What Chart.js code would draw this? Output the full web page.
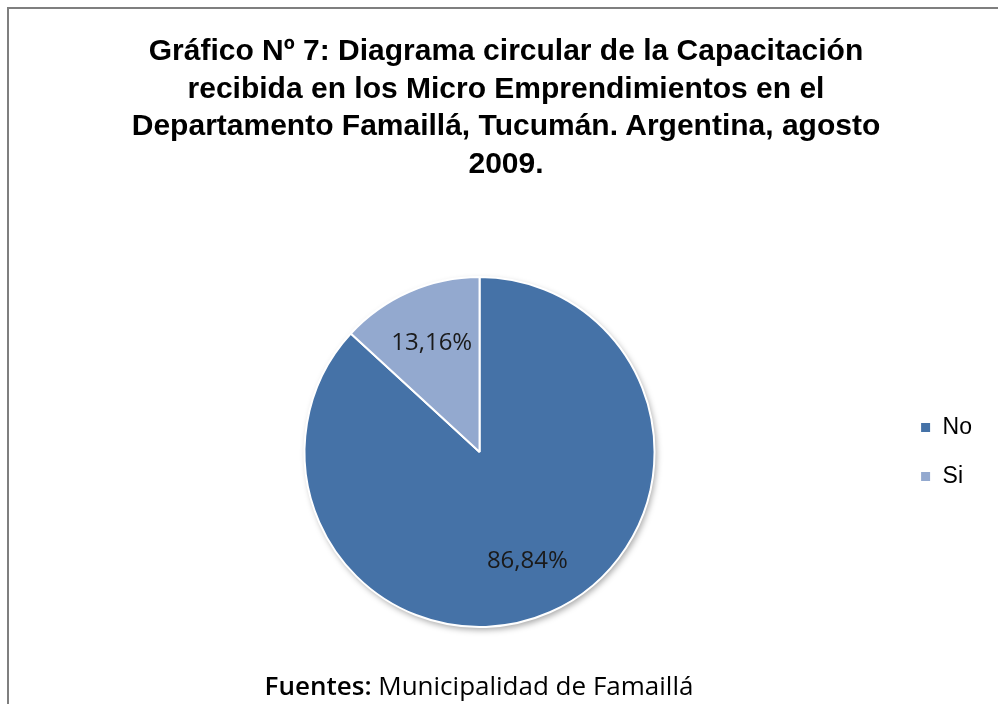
<!DOCTYPE html>
<html lang="es">
<head>
<meta charset="utf-8">
<title>Gráfico Nº 7</title>
<script src="https://cdn.jsdelivr.net/npm/chart.js@4.4.1/dist/chart.umd.min.js"></script>
<style>
    html, body { margin: 0; padding: 0; background: #fff; }
    #page { position: relative; width: 998px; height: 704px; overflow: hidden; background: #fff; }
    #frame {
        position: absolute; left: 7px; top: 7px; right: -10px; bottom: -10px;
        border-top: 2px solid #7f7f7f; border-left: 2px solid #7f7f7f;
    }
    #title {
        position: absolute; left: 14px; top: 31px; width: 984px;
        text-align: center; font-family: "Liberation Sans", Arial, sans-serif;
        font-weight: bold; font-size: 30px; line-height: 37.5px; color: #000;
    }
    #source {
        position: absolute; left: 0; top: 668px; width: 958px;
        text-align: center; font-family: "Open Sans", sans-serif;
        font-size: 26px; line-height: 35px; color: #000;
    }
    #source b { font-weight: 600; }
    canvas { position: absolute; left: 0; top: 0; }
</style>
</head>
<body>
<div id="page">
    <div id="frame"></div>
    <canvas id="chart" width="998" height="704"></canvas>
    <div id="title">Gráfico Nº 7: Diagrama circular de la Capacitación<br>recibida en los Micro Emprendimientos en el<br>Departamento Famaillá, Tucumán. Argentina, agosto<br>2009.</div>
    <div id="source"><b>Fuentes:</b> Municipalidad de Famaillá</div>
</div>
<script>
const LABELS = ["No", "Si"];
const VALUES = [86.84, 13.16];
const COLORS = ["#4572a7", "#93a9cf"];

function formatPct(v) {
    return v.toFixed(2).replace(".", ",") + "%";
}

// soft drop shadow under the whole pie, like the original
const pieShadow = {
    id: "pieShadow",
    beforeDatasetsDraw(chart) {
        const arc = chart.getDatasetMeta(0).data[0];
        if (!arc) return;
        const { x, y, outerRadius } = arc.getProps(["x", "y", "outerRadius"], true);
        const ctx = chart.ctx;
        ctx.save();
        ctx.shadowColor = "rgba(0,0,0,0.35)";
        ctx.shadowBlur = 6;
        ctx.shadowOffsetX = 2;
        ctx.shadowOffsetY = 3;
        ctx.fillStyle = "#ffffff";
        ctx.beginPath();
        ctx.arc(x, y, outerRadius, 0, Math.PI * 2);
        ctx.fill();
        ctx.restore();
    }
};

const sliceLabels = {
    id: "sliceLabels",
    afterDatasetsDraw(chart) {
        const ctx = chart.ctx;
        const meta = chart.getDatasetMeta(0);
        ctx.save();
        ctx.font = "24px 'Open Sans', sans-serif";
        ctx.fillStyle = "#1a1a1a";
        ctx.textAlign = "center";
        ctx.textBaseline = "middle";
        meta.data.forEach((arc, i) => {
            const p = arc.getProps(["x", "y", "startAngle", "endAngle", "outerRadius"], true);
            const mid = (p.startAngle + p.endAngle) / 2;
            const r = p.outerRadius * 0.68;
            ctx.fillText(formatPct(VALUES[i]), p.x + Math.cos(mid) * r, p.y + Math.sin(mid) * r);
        });
        ctx.restore();
    }
};

new Chart(document.getElementById("chart"), {
    type: "pie",
    data: {
        labels: LABELS,
        datasets: [{
            data: VALUES,
            backgroundColor: COLORS,
            borderColor: "#ffffff",
            borderWidth: 2,
            hoverOffset: 0
        }]
    },
    options: {
        responsive: false,
        animation: false,
        events: [],
        layout: { padding: { top: 276, bottom: 76, left: 65, right: 16 } },
        plugins: {
            title: { display: false },
            tooltip: { enabled: false },
            legend: {
                position: "right",
                labels: {
                    boxWidth: 11,
                    boxHeight: 11,
                    padding: 26,
                    color: "#000",
                    font: { family: "'Liberation Sans', Arial, sans-serif", size: 23 }
                }
            }
        }
    },
    plugins: [pieShadow, sliceLabels]
});
</script>
</body>
</html>
